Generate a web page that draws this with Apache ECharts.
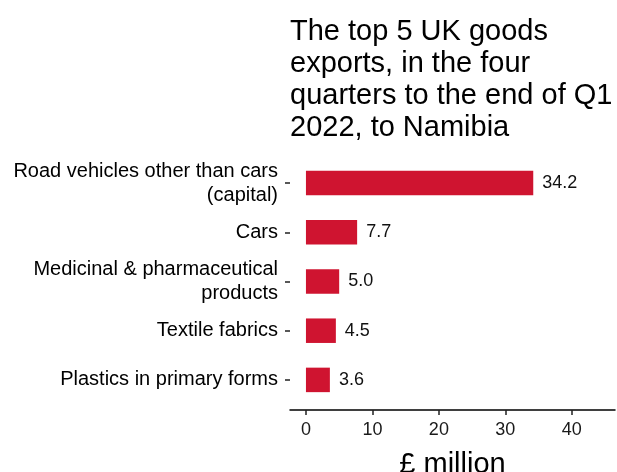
<!DOCTYPE html>
<html><head><meta charset="utf-8">
<script src="https://cdn.jsdelivr.net/npm/echarts@6/dist/echarts.min.js"></script>
<style>html,body{margin:0;padding:0;background:#fff}#c{width:617px;height:472px}</style>
</head><body><div id="c"></div>
<script>
const categories = ["Road vehicles other than cars\n(capital)", "Cars", "Medicinal & pharmaceutical\nproducts", "Textile fabrics", "Plastics in primary forms"];
const values = [34.2, 7.7, 5.0, 4.5, 3.6];
const xTicks = [0, 10, 20, 30, 40];
const titleText = "The top 5 UK goods\nexports, in the four\nquarters to the end of Q1\n2022, to Namibia";
const axisName = "£ million";

const FF = '"Liberation Sans", Arial, sans-serif';
const chart = echarts.init(document.getElementById('c'), null, {renderer: 'canvas'});
chart.setOption({
  animation: false,
  backgroundColor: '#fff',
  textStyle: {fontFamily: FF},
  title: {
    text: titleText, left: 285, top: 11,
    textStyle: {fontSize: 29, fontWeight: 'normal', color: '#000', lineHeight: 32, fontFamily: FF}
  },
  grid: {left: 290, right: 2, top: 158.5, bottom: 67.5, containLabel: false, outerBoundsMode: 'none'},
  xAxis: {
    type: 'value', min: -2.4, max: 46.5,
    offset: 5.5,
    splitLine: {show: false},
    axisLine: {show: true, onZero: false, lineStyle: {color: '#000', width: 1.5}},
    axisTick: {show: true, customValues: xTicks, length: 5, lineStyle: {color: '#222', width: 1.5}},
    axisLabel: {customValues: xTicks, color: '#1a1a1a', fontSize: 18, margin: 11, fontFamily: FF},
    name: axisName, nameLocation: 'middle', nameGap: 40,
    nameTextStyle: {fontSize: 29, color: '#000', fontFamily: FF}
  },
  yAxis: {
    type: 'category', data: categories, inverse: true,
    axisLine: {show: false, onZero: false},
    axisTick: {show: true, length: 5, alignWithLabel: true, lineStyle: {color: '#222', width: 1.5}},
    axisLabel: {color: '#000', fontSize: 20, lineHeight: 24, margin: 12, align: 'right', fontFamily: FF}
  },
  series: [{
    type: 'bar', data: values, barWidth: 24.5,
    itemStyle: {color: '#CF1430'},
    label: {show: true, position: 'right', distance: 9, color: '#111', fontSize: 18,
      formatter: p => p.value.toFixed(1), fontFamily: FF}
  }]
});
</script></body></html>
